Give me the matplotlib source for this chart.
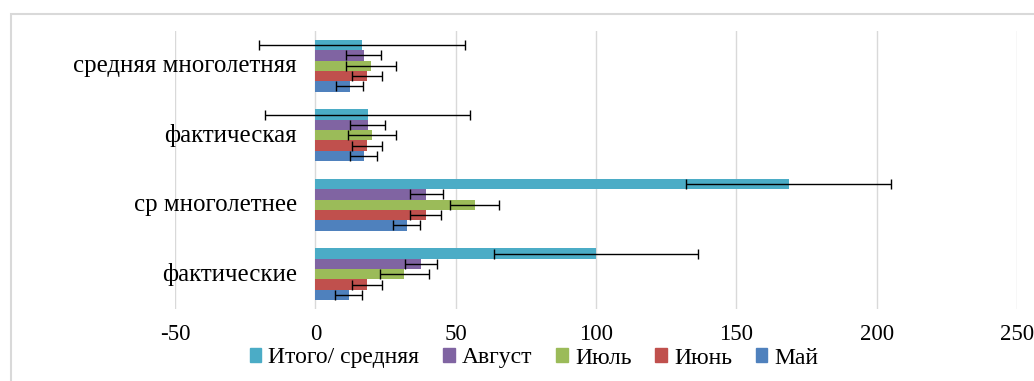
import matplotlib
matplotlib.use("Agg")
import matplotlib.pyplot as plt
import matplotlib.patches as mpatches
import numpy as np

plt.rcParams["font.family"] = ["Liberation Serif", "DejaVu Serif"]

CATEGORIES = ["фактические", "ср многолетнее", "фактическая", "средняя многолетняя"]
SERIES = ["Май", "Июнь", "Июль", "Август", "Итого/ средняя"]
COLORS = ["#4F81BD", "#C0504D", "#9BBB59", "#8064A2", "#4BACC6"]

# values per series, categories in the order above
MAY = [11.9, 32.5, 17.2, 12.2]
JUNE = [18.3, 39.3, 18.3, 18.3]
JULY = [31.7, 56.8, 20.3, 19.8]
AUGUST = [37.7, 39.6, 18.6, 17.2]
TOTAL = [100.0, 168.6, 18.6, 16.8]

# error bar half-widths
MAY_ERR = [4.75, 4.7, 4.7, 4.8]
JUNE_ERR = [5.35, 5.4, 5.4, 5.4]
JULY_ERR = [8.7, 8.8, 8.6, 8.8]
AUGUST_ERR = [5.8, 5.9, 6.1, 6.1]
TOTAL_ERR = [36.5, 36.6, 36.6, 36.7]

XTICKS = [-50, 0, 50, 100, 150, 200, 250]

values = [MAY, JUNE, JULY, AUGUST, TOTAL]
errors = [MAY_ERR, JUNE_ERR, JULY_ERR, AUGUST_ERR, TOTAL_ERR]

fig = plt.figure(figsize=(10.34, 3.81), dpi=100)
ax = fig.add_axes([175 / 1034, 1 - 309 / 381, (1017 - 175) / 1034, (309 - 31) / 381])

y = np.arange(len(CATEGORIES))
h = 0.1488
handles = []
for i, (name, col, vals, errs) in enumerate(zip(SERIES, COLORS, values, errors)):
    ax.barh(y + (i - 2) * h, vals, height=h, color=col, xerr=errs,
            error_kw=dict(ecolor="black", elinewidth=1.0, capsize=3.8, capthick=1.0),
            zorder=3)
    handles.append(mpatches.Patch(color=col, label=name))

ax.set_xlim(-50, 250)
ax.set_ylim(-0.5, 3.5)
ax.set_xticks(XTICKS)
ax.set_xticklabels([str(t) for t in XTICKS], fontsize=16.5)
ax.tick_params(axis="x", length=0, pad=11)
ax.set_yticks([])
ax.grid(axis="x", color="#D9D9D9", linewidth=1.0, zorder=0)
for s in ax.spines.values():
    s.set_visible(False)

for yi, lab in zip(y, CATEGORIES):
    ax.text(-6.5, yi, lab, ha="right", va="center", fontsize=17.9, zorder=4)

fig.legend(handles=handles[::-1], loc="center", bbox_to_anchor=(534 / 1034, 1 - 358 / 381),
           ncol=5, frameon=False, fontsize=17.0, handlelength=0.5, handleheight=0.5,
           handletextpad=0.3, columnspacing=1.0, borderaxespad=0, borderpad=0)

border = mpatches.Rectangle((11 / 1034, -0.1), 1.2, 1 - 14 / 381 + 0.1, transform=fig.transFigure,
                            fill=False, edgecolor="#D9D9D9", linewidth=1.5, clip_on=False)
fig.patches.append(border)

fig.savefig("out.png", dpi=100)
